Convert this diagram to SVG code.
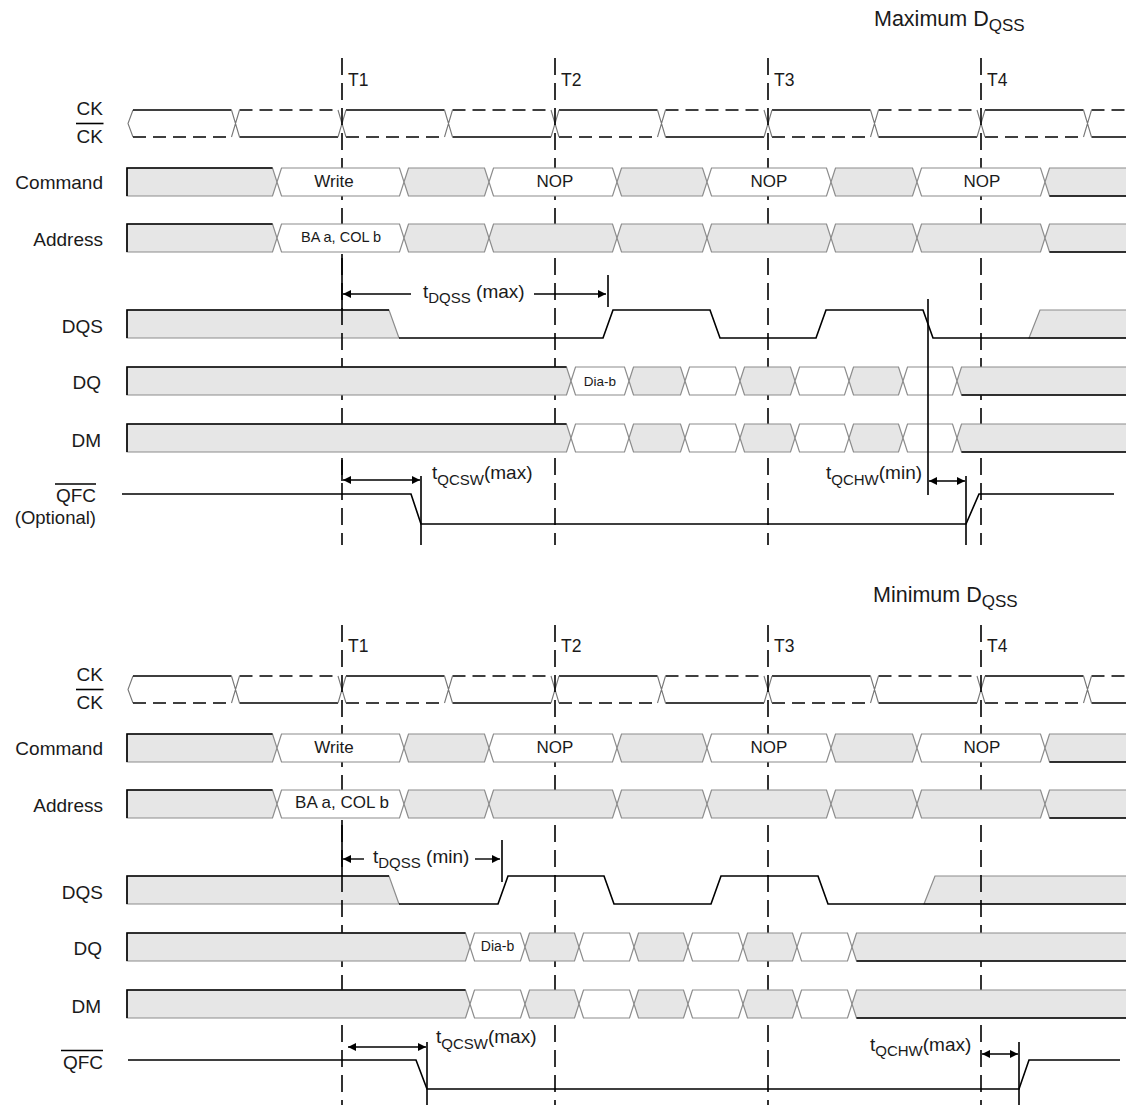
<svg xmlns="http://www.w3.org/2000/svg" width="1126" height="1105" viewBox="0 0 1126 1105">
<defs>
<style>
text{font-family:"Liberation Sans",Arial,sans-serif;fill:#1a1a1a}
.lbl{font-size:19px;text-anchor:end}
.tl{font-size:17.5px}
.cmd{font-size:17px;text-anchor:middle}
.ttl{font-size:21.5px}
.tm{font-size:19px}
.sub{font-size:15px}
.g{fill:#e6e6e6;stroke:#8c8c8c;stroke-width:1.2}
.w{fill:#fff;stroke:#8c8c8c;stroke-width:1.2}
.k{fill:none;stroke:#000;stroke-width:1.6}
.kd{fill:none;stroke:#000;stroke-width:1.6;stroke-dasharray:13 7}
.x{fill:none;stroke:#777;stroke-width:1.1}
.tline{fill:none;stroke:#000;stroke-width:1.6;stroke-dasharray:17 8}
.arr{fill:none;stroke:#000;stroke-width:1.4}
</style>
<marker id="ah" markerUnits="userSpaceOnUse" markerWidth="9" markerHeight="8" refX="8" refY="4" orient="auto-start-reverse"><path d="M0,0 L8,4 L0,8 z" fill="#000"/></marker>
</defs>
<rect width="1126" height="1105" fill="#fff"/>

<!-- ===== TOP : Maximum DQSS ===== -->
<text class="ttl" x="874" y="26">Maximum D<tspan style="font-size:17px" dy="5">QSS</tspan></text>

<g id="labels-top">
<text class="lbl" x="103" y="115">CK</text>
<text class="lbl" x="103" y="143">CK</text>
<path class="k" d="M76,123.5 H103.5" stroke-width="1.3"/>
<text class="lbl" x="103" y="189">Command</text>
<text class="lbl" x="103" y="246">Address</text>
<text class="lbl" x="103" y="333">DQS</text>
<text class="lbl" x="101" y="389">DQ</text>
<text class="lbl" x="101" y="447">DM</text>
<text class="lbl" x="96" y="502">QFC</text>
<path class="k" d="M55,484 H96" stroke-width="1.3"/>
<text class="lbl" x="96" y="524" style="font-size:18.5px">(Optional)</text>
</g>

<g id="ck-top">
<polyline class="x" points="133,110 128,123.5 133,137"/>
<path class="k" d="M133,110 H231.5 M239.5,137 H338 M346,110 H444.5 M452.5,137 H551 M559,110 H657.5 M665.5,137 H764 M772,110 H870.5 M878.5,137 H977 M985,110 H1083.5 M1091.5,137 H1126"/>
<path class="kd" d="M133,137 H231.5 M239.5,110 H338 M346,137 H444.5 M452.5,110 H551 M559,137 H657.5 M665.5,110 H764 M772,137 H870.5 M878.5,110 H977 M985,137 H1083.5 M1091.5,110 H1126"/>
<path class="x" d="M231.5,110 L239.5,137 M231.5,137 L239.5,110 M338,110 L346,137 M338,137 L346,110 M444.5,110 L452.5,137 M444.5,137 L452.5,110 M551,110 L559,137 M551,137 L559,110 M657.5,110 L665.5,137 M657.5,137 L665.5,110 M764,110 L772,137 M764,137 L772,110 M870.5,110 L878.5,137 M870.5,137 L878.5,110 M977,110 L985,137 M977,137 L985,110 M1083.5,110 L1091.5,137 M1083.5,137 L1091.5,110"/>
</g>

<g id="dqs-top">
<polygon class="g" points="127,310 389,310 399,338 127,338"/>
<polygon class="g" points="1029,338 1040,310 1130,310 1130,338"/>
<path class="k" d="M127,338 V310 H389"/>
<path class="k" d="M399,338 H603 L613,310 H710 L720,338 H816 L826,310 H923 L933,338 H1126"/>
</g>

<g id="qfc-top">
<path class="k" d="M122,494 H411 L421,524 H966 L979,494 H1114"/>
</g>

<g id="tlines-top">
<path class="tline" d="M342,58 V545 M555,58 V545 M768,58 V545 M981,58 V545"/>
</g>
<text class="tl" x="348" y="86">T1</text>
<text class="tl" x="561" y="86">T2</text>
<text class="tl" x="774" y="86">T3</text>
<text class="tl" x="987" y="86">T4</text>

<g id="cmd-top">
<polygon class="g" points="127,168 272.5,168 277,182 272.5,196 127,196"/>
<polygon class="w" points="277,182 281.5,168 399.5,168 404,182 399.5,196 281.5,196"/>
<polygon class="g" points="404,182 408.5,168 484.5,168 489,182 484.5,196 408.5,196"/>
<polygon class="w" points="489,182 493.5,168 612.5,168 617,182 612.5,196 493.5,196"/>
<polygon class="g" points="617,182 621.5,168 702.5,168 707,182 702.5,196 621.5,196"/>
<polygon class="w" points="707,182 711.5,168 826.5,168 831,182 826.5,196 711.5,196"/>
<polygon class="g" points="831,182 835.5,168 912.5,168 917,182 912.5,196 835.5,196"/>
<polygon class="w" points="917,182 921.5,168 1040.5,168 1045,182 1040.5,196 921.5,196"/>
<polygon class="g" points="1045,182 1049.5,168 1130,168 1130,196 1049.5,196"/>
<path class="k" d="M127,196 V168 H272.5 M1049.5,196 H1126"/>
<text class="cmd" x="334" y="187">Write</text>
<text class="cmd" x="555" y="187">NOP</text>
<text class="cmd" x="769" y="187">NOP</text>
<text class="cmd" x="982" y="187">NOP</text>
</g>

<g id="addr-top-shapes">
<polygon class="g" points="127,224 272.5,224 277,238 272.5,252 127,252"/>
<polygon class="w" points="277,238 281.5,224 399.5,224 404,238 399.5,252 281.5,252"/>
<polygon class="g" points="404,238 408.5,224 484.5,224 489,238 484.5,252 408.5,252"/>
<polygon class="g" points="489,238 493.5,224 612.5,224 617,238 612.5,252 493.5,252"/>
<polygon class="g" points="617,238 621.5,224 702.5,224 707,238 702.5,252 621.5,252"/>
<polygon class="g" points="707,238 711.5,224 826.5,224 831,238 826.5,252 711.5,252"/>
<polygon class="g" points="831,238 835.5,224 912.5,224 917,238 912.5,252 835.5,252"/>
<polygon class="g" points="917,238 921.5,224 1040.5,224 1045,238 1040.5,252 921.5,252"/>
<polygon class="g" points="1045,238 1049.5,224 1130,224 1130,252 1049.5,252"/>
<path class="k" d="M127,252 V224 H272.5 M1049.5,252 H1126"/>
</g>
<text class="cmd" x="341" y="242" style="font-size:14.5px">BA a, COL b</text>

<g id="dq-top">
<polygon class="g" points="127,367 566.5,367 571,381 566.5,395 127,395"/>
<polygon class="w" points="571,381 575.5,367 624.5,367 629,381 624.5,395 575.5,395"/>
<polygon class="g" points="629,381 633.5,367 680.5,367 685,381 680.5,395 633.5,395"/>
<polygon class="w" points="685,381 689.5,367 735.5,367 740,381 735.5,395 689.5,395"/>
<polygon class="g" points="740,381 744.5,367 790.5,367 795,381 790.5,395 744.5,395"/>
<polygon class="w" points="795,381 799.5,367 844.5,367 849,381 844.5,395 799.5,395"/>
<polygon class="g" points="849,381 853.5,367 898.5,367 903,381 898.5,395 853.5,395"/>
<polygon class="w" points="903,381 907.5,367 952.5,367 957,381 952.5,395 907.5,395"/>
<polygon class="g" points="957,381 961.5,367 1130,367 1130,395 961.5,395"/>
<path class="k" d="M127,395 V367 H566.5 M961.5,395 H1126"/>
<text class="cmd" x="600" y="385.5" style="font-size:13.5px">Dia-b</text>
</g>

<g id="dm-top">
<polygon class="g" points="127,424 566.5,424 571,438 566.5,452 127,452"/>
<polygon class="w" points="571,438 575.5,424 624.5,424 629,438 624.5,452 575.5,452"/>
<polygon class="g" points="629,438 633.5,424 680.5,424 685,438 680.5,452 633.5,452"/>
<polygon class="w" points="685,438 689.5,424 735.5,424 740,438 735.5,452 689.5,452"/>
<polygon class="g" points="740,438 744.5,424 790.5,424 795,438 790.5,452 744.5,452"/>
<polygon class="w" points="795,438 799.5,424 844.5,424 849,438 844.5,452 799.5,452"/>
<polygon class="g" points="849,438 853.5,424 898.5,424 903,438 898.5,452 853.5,452"/>
<polygon class="w" points="903,438 907.5,424 952.5,424 957,438 952.5,452 907.5,452"/>
<polygon class="g" points="957,438 961.5,424 1130,424 1130,452 961.5,452"/>
<path class="k" d="M127,452 V424 H566.5 M961.5,452 H1126"/>
</g>

<g id="timing-top">
<path class="k" d="M342,254 V310 M608,275 V307 M342,460 V481 M421,476 V545 M928,299 V495 M966,476 V545"/>
<path class="arr" d="M411,294 H343" marker-end="url(#ah)"/>
<path class="arr" d="M534,294 H606" marker-end="url(#ah)"/>
<path class="arr" d="M343,480 H420" marker-start="url(#ah)" marker-end="url(#ah)"/>
<path class="arr" d="M929,481 H965" marker-start="url(#ah)" marker-end="url(#ah)"/>
<text class="tm" x="423" y="298">t<tspan class="sub" dy="5">DQSS</tspan><tspan dy="-5"> (max)</tspan></text>
<text class="tm" x="432" y="479">t<tspan class="sub" dy="6">QCSW</tspan><tspan dy="-6">(max)</tspan></text>
<text class="tm" x="826" y="479">t<tspan class="sub" dy="6">QCHW</tspan><tspan dy="-6">(min)</tspan></text>
</g>

<!-- ===== BOTTOM : Minimum DQSS ===== -->
<text class="ttl" x="873" y="602">Minimum D<tspan style="font-size:17px" dy="5">QSS</tspan></text>

<g id="labels-bottom">
<text class="lbl" x="103" y="681">CK</text>
<text class="lbl" x="103" y="709">CK</text>
<path class="k" d="M76,689.5 H103.5" stroke-width="1.3"/>
<text class="lbl" x="103" y="755">Command</text>
<text class="lbl" x="103" y="812">Address</text>
<text class="lbl" x="103" y="899">DQS</text>
<text class="lbl" x="102" y="955">DQ</text>
<text class="lbl" x="101" y="1013">DM</text>
<text class="lbl" x="103" y="1069">QFC</text>
<path class="k" d="M61,1050.5 H103" stroke-width="1.3"/>
</g>

<g id="ck-bottom"><use href="#ck-top" transform="translate(0,566)"/></g>

<g id="dqs-bottom">
<polygon class="g" points="127,876 389,876 399,904 127,904"/>
<polygon class="g" points="924,904 935,876 1130,876 1130,904"/>
<path class="k" d="M127,904 V876 H389"/>
<path class="k" d="M399,904 H498 L508,876 H604 L614,904 H711 L721,876 H818 L828,904 H1126"/>
</g>

<g id="qfc-bottom">
<path class="k" d="M128,1060 H416 L427,1089 H1019 L1029,1060 H1120"/>
</g>

<g id="tlines-bottom">
<path class="tline" d="M342,625 V1105 M555,625 V1105 M768,625 V1105 M981,625 V1105"/>
</g>
<text class="tl" x="348" y="652">T1</text>
<text class="tl" x="561" y="652">T2</text>
<text class="tl" x="774" y="652">T3</text>
<text class="tl" x="987" y="652">T4</text>

<g id="cmd-bottom"><use href="#cmd-top" transform="translate(0,566)"/></g>
<g id="addr-bottom"><use href="#addr-top-shapes" transform="translate(0,566)"/></g>
<text class="cmd" x="342" y="808">BA a, COL b</text>

<g id="dq-bottom">
<polygon class="g" points="127,933 465.5,933 470,947 465.5,961 127,961"/>
<polygon class="w" points="470,947 474.5,933 520.5,933 525,947 520.5,961 474.5,961"/>
<polygon class="g" points="525,947 529.5,933 574.5,933 579,947 574.5,961 529.5,961"/>
<polygon class="w" points="579,947 583.5,933 629.5,933 634,947 629.5,961 583.5,961"/>
<polygon class="g" points="634,947 638.5,933 683.5,933 688,947 683.5,961 638.5,961"/>
<polygon class="w" points="688,947 692.5,933 738.5,933 743,947 738.5,961 692.5,961"/>
<polygon class="g" points="743,947 747.5,933 792.5,933 797,947 792.5,961 747.5,961"/>
<polygon class="w" points="797,947 801.5,933 847.5,933 852,947 847.5,961 801.5,961"/>
<polygon class="g" points="852,947 856.5,933 1130,933 1130,961 856.5,961"/>
<path class="k" d="M127,961 V933 H465.5 M856.5,961 H1126"/>
<text class="cmd" x="497.5" y="950.5" style="font-size:14px">Dia-b</text>
</g>

<g id="dm-bottom">
<polygon class="g" points="127,990 465.5,990 470,1004 465.5,1018 127,1018"/>
<polygon class="w" points="470,1004 474.5,990 520.5,990 525,1004 520.5,1018 474.5,1018"/>
<polygon class="g" points="525,1004 529.5,990 574.5,990 579,1004 574.5,1018 529.5,1018"/>
<polygon class="w" points="579,1004 583.5,990 629.5,990 634,1004 629.5,1018 583.5,1018"/>
<polygon class="g" points="634,1004 638.5,990 683.5,990 688,1004 683.5,1018 638.5,1018"/>
<polygon class="w" points="688,1004 692.5,990 738.5,990 743,1004 738.5,1018 692.5,1018"/>
<polygon class="g" points="743,1004 747.5,990 792.5,990 797,1004 792.5,1018 747.5,1018"/>
<polygon class="w" points="797,1004 801.5,990 847.5,990 852,1004 847.5,1018 801.5,1018"/>
<polygon class="g" points="852,1004 856.5,990 1130,990 1130,1018 856.5,1018"/>
<path class="k" d="M127,1018 V990 H465.5 M856.5,1018 H1126"/>
</g>

<g id="timing-bottom">
<path class="k" d="M342,820 V876 M502,840 V882 M427,1042 V1105 M1019,1042 V1105"/>
<path class="arr" d="M364,859 H343" marker-end="url(#ah)"/>
<path class="arr" d="M475,859 H500" marker-end="url(#ah)"/>
<path class="arr" d="M348,1047 H426" marker-start="url(#ah)" marker-end="url(#ah)"/>
<path class="arr" d="M982,1054 H1018" marker-start="url(#ah)" marker-end="url(#ah)"/>
<text class="tm" x="373" y="863">t<tspan class="sub" dy="5">DQSS</tspan><tspan dy="-5"> (min)</tspan></text>
<text class="tm" x="436" y="1043">t<tspan class="sub" dy="6">QCSW</tspan><tspan dy="-6">(max)</tspan></text>
<text class="tm" x="870" y="1051">t<tspan class="sub" dy="5">QCHW</tspan><tspan dy="-5">(max)</tspan></text>
</g>
</svg>
